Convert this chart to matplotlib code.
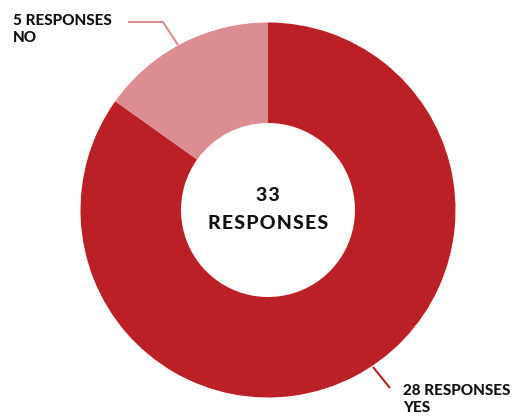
import matplotlib
matplotlib.use("Agg")
import matplotlib.pyplot as plt

# Survey answers
categories = ["YES", "NO"]
responses = [28, 5]
total = sum(responses)

colors = ["#BA2026", "#DB8D91"]
text_color = "#111111"

W, H = 517, 416
fig = plt.figure(figsize=(W / 100, H / 100), dpi=100)

# Donut centre and outer radius in pixels
cx, cy, R = 268, 210, 187.5
half = 200
ax = fig.add_axes([(cx - half) / W, (H - cy - half) / H, 2 * half / W, 2 * half / H])

wedges, _ = ax.pie(responses, colors=colors, startangle=90, counterclock=False,
                   radius=1.0, wedgeprops=dict(width=1 - 87 / R, linewidth=0))
ax.set_xlim(-half / R, half / R)
ax.set_ylim(-half / R, half / R)
ax.set_aspect("equal")
ax.axis("off")

font = ["Lato", "DejaVu Sans"]
weight = "black"

def spaced(s):
    return "\u200a".join(s)

def px(x, y):
    return (x - cx) / R, (cy - y) / R

# Centre total
ax.text(0, px(0, 201)[1], spaced(f"{total}"), ha="center", va="baseline", fontsize=14,
        fontweight=weight, family=font, color=text_color)
ax.text(0, px(0, 229)[1], spaced("RESPONSES"), ha="center", va="baseline", fontsize=14,
        fontweight=weight, family=font, color=text_color)

# NO leader and label
no_pts = [px(178, 45), px(163, 22), px(128, 22)]
xs, ys = zip(*no_pts)
ax.plot(xs, ys, color=colors[1], lw=1.5, clip_on=False, solid_capstyle="butt")
tx, ty = px(13, 14)
ax.text(tx, ty, f"{responses[1]} RESPONSES\n{categories[1]}", ha="left", va="top",
        fontsize=11, fontweight=weight, family=font, color=text_color,
        linespacing=1.3, clip_on=False)

# YES leader and label
yes_pts = [px(373, 367), px(390, 388)]
xs, ys = zip(*yes_pts)
ax.plot(xs, ys, color=colors[0], lw=1.5, clip_on=False, solid_capstyle="butt")
tx, ty = px(403, 384)
ax.text(tx, ty, f"{responses[0]} RESPONSES\n{categories[0]}", ha="left", va="top",
        fontsize=11, fontweight=weight, family=font, color=text_color,
        linespacing=1.3, clip_on=False)

fig.savefig("out.png", dpi=100)
